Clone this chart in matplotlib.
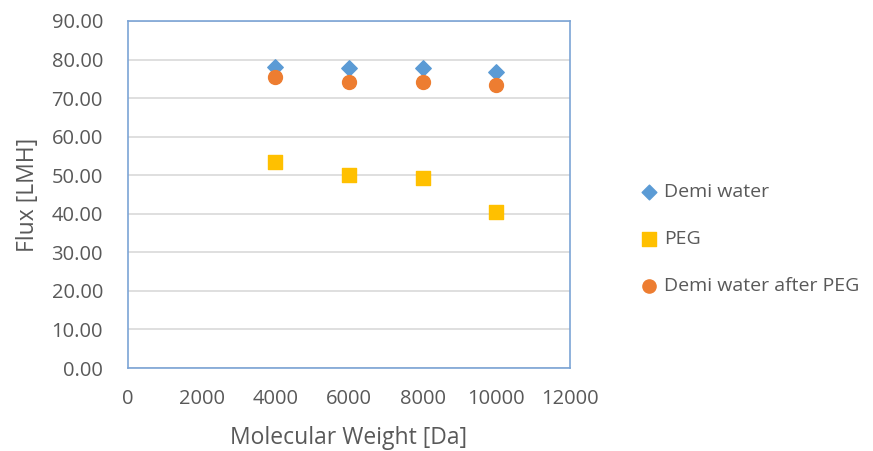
import matplotlib
matplotlib.use("Agg")
import matplotlib.pyplot as plt
from matplotlib.ticker import FormatStrFormatter

# data
mw = [4000, 6000, 8000, 10000]
demi_water = [78.0, 77.9, 77.9, 76.9]
peg = [53.4, 50.0, 49.3, 40.5]
demi_after_peg = [75.4, 74.1, 74.2, 73.5]

x_ticks = [0, 2000, 4000, 6000, 8000, 10000, 12000]
y_ticks = [0, 10, 20, 30, 40, 50, 60, 70, 80, 90]

C_BLUE = "#5B9BD5"
C_GOLD = "#FFC000"
C_ORANGE = "#ED7D31"
C_TEXT = "#595959"

plt.rcParams.update({
    "font.family": ["Open Sans", "DejaVu Sans"],
    "text.color": C_TEXT,
    "axes.labelcolor": C_TEXT,
    "xtick.color": C_TEXT,
    "ytick.color": C_TEXT,
})

fig = plt.figure(figsize=(8.73, 4.51), dpi=100)
ax = fig.add_axes([128 / 873, 1 - 368 / 451, 442 / 873, 347 / 451])

ax.scatter(mw, demi_water, marker="D", s=62, color=C_BLUE, label="Demi water", zorder=3)
ax.scatter(mw, peg, marker="s", s=115, color=C_GOLD, label="PEG", zorder=3)
ax.scatter(mw, demi_after_peg, marker="o", s=100, color=C_ORANGE,
           label="Demi water after PEG", zorder=3)

ax.set_xlim(0, 12000)
ax.set_ylim(0, 90)
ax.set_xticks(x_ticks)
ax.set_yticks(y_ticks)
ax.yaxis.set_major_formatter(FormatStrFormatter("%.2f"))
ax.tick_params(length=0, labelsize=14.5)
ax.tick_params(axis="y", pad=18)
ax.tick_params(axis="x", pad=15)
ax.grid(axis="y", color="#D9D9D9", lw=1.2)
ax.set_axisbelow(True)
for s in ax.spines.values():
    s.set_color("#7BA4D6")
    s.set_linewidth(1.2)

ax.set_xlabel("Molecular Weight [Da]", fontsize=16.5, labelpad=12)
ax.set_ylabel("Flux [LMH]", fontsize=16.5, labelpad=8)

fig.legend(loc="center left", bbox_to_anchor=(620 / 873, 1 - 239 / 451),
           frameon=False, fontsize=14, labelspacing=1.5, handletextpad=0.15,
           handlelength=1.2, scatterpoints=1, markerscale=0.95)

fig.savefig("out.png", dpi=100)
